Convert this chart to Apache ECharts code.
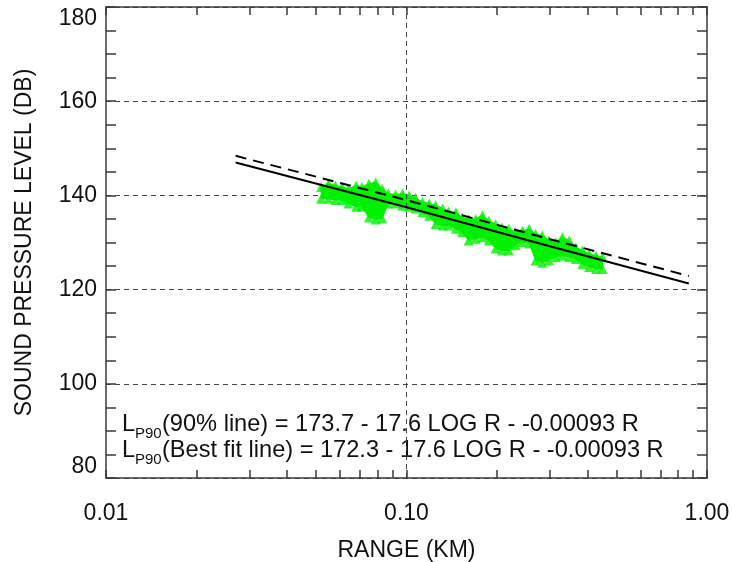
<!DOCTYPE html>
<html>
<head>
<meta charset="utf-8">
<script src="https://cdn.jsdelivr.net/npm/echarts@6/dist/echarts.min.js"></script>
<style>
html,body{margin:0;padding:0;background:#fff;}
#chart{width:732px;height:562px;}
</style>
</head>
<body>
<div id="chart"></div>
<script>
// Measured band of data (range in km, upper and lower level in dB)
var greenR = [0.052,0.055,0.058,0.061,0.064,0.068,0.071,0.075,0.079,0.083,0.087,0.092,0.097,0.102,0.107,0.113,0.119,0.125,0.132,0.138,0.146,0.153,0.161,0.170,0.179,0.188,0.198,0.208,0.219,0.231,0.243,0.256,0.269,0.283,0.298,0.314,0.330,0.348,0.366,0.385,0.405,0.427,0.449];
var greenHigh = [141.8,142.5,142.1,141.8,141.4,142.1,141.8,142.5,142.8,141.4,140.4,140.2,140.4,140.0,139.5,138.6,138.3,137.9,137.2,136.6,136.4,135.3,135.0,135.0,135.8,134.6,133.9,133.2,132.9,132.2,132.5,132.9,131.8,131.5,130.4,130.1,131.1,130.4,129.0,128.3,127.6,127.2,126.9];
var greenLow = [139.3,139.3,139.0,139.0,138.3,137.6,137.6,135.3,134.9,135.1,138.3,138.3,137.8,137.6,137.2,136.4,135.7,133.9,133.6,133.6,132.9,132.2,130.4,130.8,131.1,130.4,128.7,128.3,128.3,129.4,130.1,129.8,126.2,125.7,126.2,126.9,127.2,126.9,126.5,125.4,124.8,124.4,124.4];
// Fitted lines
var fitR = [0.027, 0.1, 0.3, 0.87];
var bestFit = [147.0, 137.5, 129.2, 121.3];
var p90Fit = [148.4, 139.0, 130.7, 122.9];
// Axis ticks
var xTicks = [0.01, 0.1, 1];
var xMinorTicks = [0.02,0.03,0.04,0.05,0.06,0.07,0.08,0.09,0.2,0.3,0.4,0.5,0.6,0.7,0.8,0.9];
var xGridLines = [0.1];

var FONT = '"Liberation Sans", Arial, Helvetica, sans-serif';
var AX = '#3a3a3a';
var GRID = '#444';
var GREEN = '#00f000';

var chart = echarts.init(document.getElementById('chart'), null, {renderer:'canvas'});

function pairs(xs, ys){ return xs.map(function(x,i){ return [x, ys[i]]; }); }

var allTicks = xTicks.concat(xMinorTicks).sort(function(a,b){return a-b;});

var xBase = {
  type:'log', logBase:10, min:0.01, max:1,
  axisLine:{show:true, lineStyle:{color:AX, width:1.5}},
  axisTick:{show:true, inside:true, length:8, customValues: allTicks, lineStyle:{color:AX, width:1.5}},
  splitLine:{show:false}
};

var option = {
  animation:false,
  backgroundColor:'#fff',
  grid:{left:106, right:25, top:7, bottom:84, containLabel:false, outerBoundsMode:'none'},
  xAxis:[
    Object.assign({}, xBase, {
      position:'bottom',
      name:'RANGE (KM)', nameLocation:'middle', nameGap:61,
      nameTextStyle:{fontFamily:FONT, fontSize:23, color:'#111'},
      axisLabel:{show:true, margin:24, fontFamily:FONT, fontSize:23, color:'#111',
        customValues: xTicks,
        formatter:function(v){ return Number(v).toFixed(2); }}
    }),
    Object.assign({}, xBase, {
      position:'top',
      axisLabel:{show:false}
    })
  ],
  yAxis:[
    {
      type:'value', min:80, max:180, interval:20, position:'left',
      name:'SOUND PRESSURE LEVEL (DB)', nameLocation:'middle', nameGap:70,
      nameTextStyle:{fontFamily:FONT, fontSize:23, color:'#111'},
      axisLine:{show:true, lineStyle:{color:AX, width:1.5}},
      axisTick:{show:true, inside:true, length:10, lineStyle:{color:AX, width:1.5}},
      minorTick:{show:true, splitNumber:4, length:10, lineStyle:{color:AX, width:1.5}},
      axisLabel:{fontFamily:FONT, fontSize:23, color:'#111', margin:9,
        verticalAlignMinLabel:'bottom', verticalAlignMaxLabel:'top'},
      splitLine:{show:true, lineStyle:{color:GRID, width:1, type:[5,4]}}
    },
    {
      type:'value', min:80, max:180, interval:20, position:'right',
      axisLine:{show:true, lineStyle:{color:AX, width:1.5}},
      axisTick:{show:true, inside:true, length:10, lineStyle:{color:AX, width:1.5}},
      minorTick:{show:true, splitNumber:4, length:10, lineStyle:{color:AX, width:1.5}},
      axisLabel:{show:false},
      splitLine:{show:false}
    }
  ],
  series:[
    {
      type:'custom',
      data: greenR.map(function(r,i){ return [r, greenHigh[i], greenLow[i]]; }),
      encode:{x:0, y:[1,2]},
      z:2, silent:true,
      renderItem:function(params, api){
        if (params.dataIndex !== 0) return;
        var pts = [], i;
        for (i = 0; i < greenR.length; i++) pts.push(api.coord([greenR[i], greenHigh[i]]));
        for (i = greenR.length - 1; i >= 0; i--) pts.push(api.coord([greenR[i], greenLow[i]]));
        return {type:'polygon', shape:{points:pts}, style:{fill:GREEN, stroke:GREEN, lineWidth:1}};
      },
      markLine:{
        silent:true, symbol:'none', label:{show:false},
        lineStyle:{color:GRID, width:1, type:[5,4]},
        data: xGridLines.map(function(v){ return {xAxis:v}; })
      }
    },
    {
      type:'scatter', data: pairs(greenR, greenHigh).concat(pairs(greenR, greenLow)),
      symbol:'triangle', symbolSize:10, itemStyle:{color:GREEN}, z:3, silent:true
    },
    {
      type:'line', data: pairs(fitR, p90Fit), symbol:'none',
      lineStyle:{color:'#000', width:2, type:[11,7]}, z:5
    },
    {
      type:'line', data: pairs(fitR, bestFit), symbol:'none',
      lineStyle:{color:'#000', width:2}, z:5
    }
  ],
  graphic:[
    {type:'text', left:122, top:412, style:{text:'L', font:'23.6px '+FONT, fill:'#111'}},
    {type:'text', left:135, top:426, style:{text:'P90', font:'15px '+FONT, fill:'#111'}},
    {type:'text', left:162, top:412, style:{text:'(90% line) = 173.7 - 17.6 LOG R - -0.00093 R', font:'23.6px '+FONT, fill:'#111'}},
    {type:'text', left:122, top:438, style:{text:'L', font:'23.6px '+FONT, fill:'#111'}},
    {type:'text', left:135, top:452, style:{text:'P90', font:'15px '+FONT, fill:'#111'}},
    {type:'text', left:162, top:438, style:{text:'(Best fit line) = 172.3 - 17.6 LOG R - -0.00093 R', font:'23.6px '+FONT, fill:'#111'}}
  ]
};
chart.setOption(option);
</script>
</body>
</html>
